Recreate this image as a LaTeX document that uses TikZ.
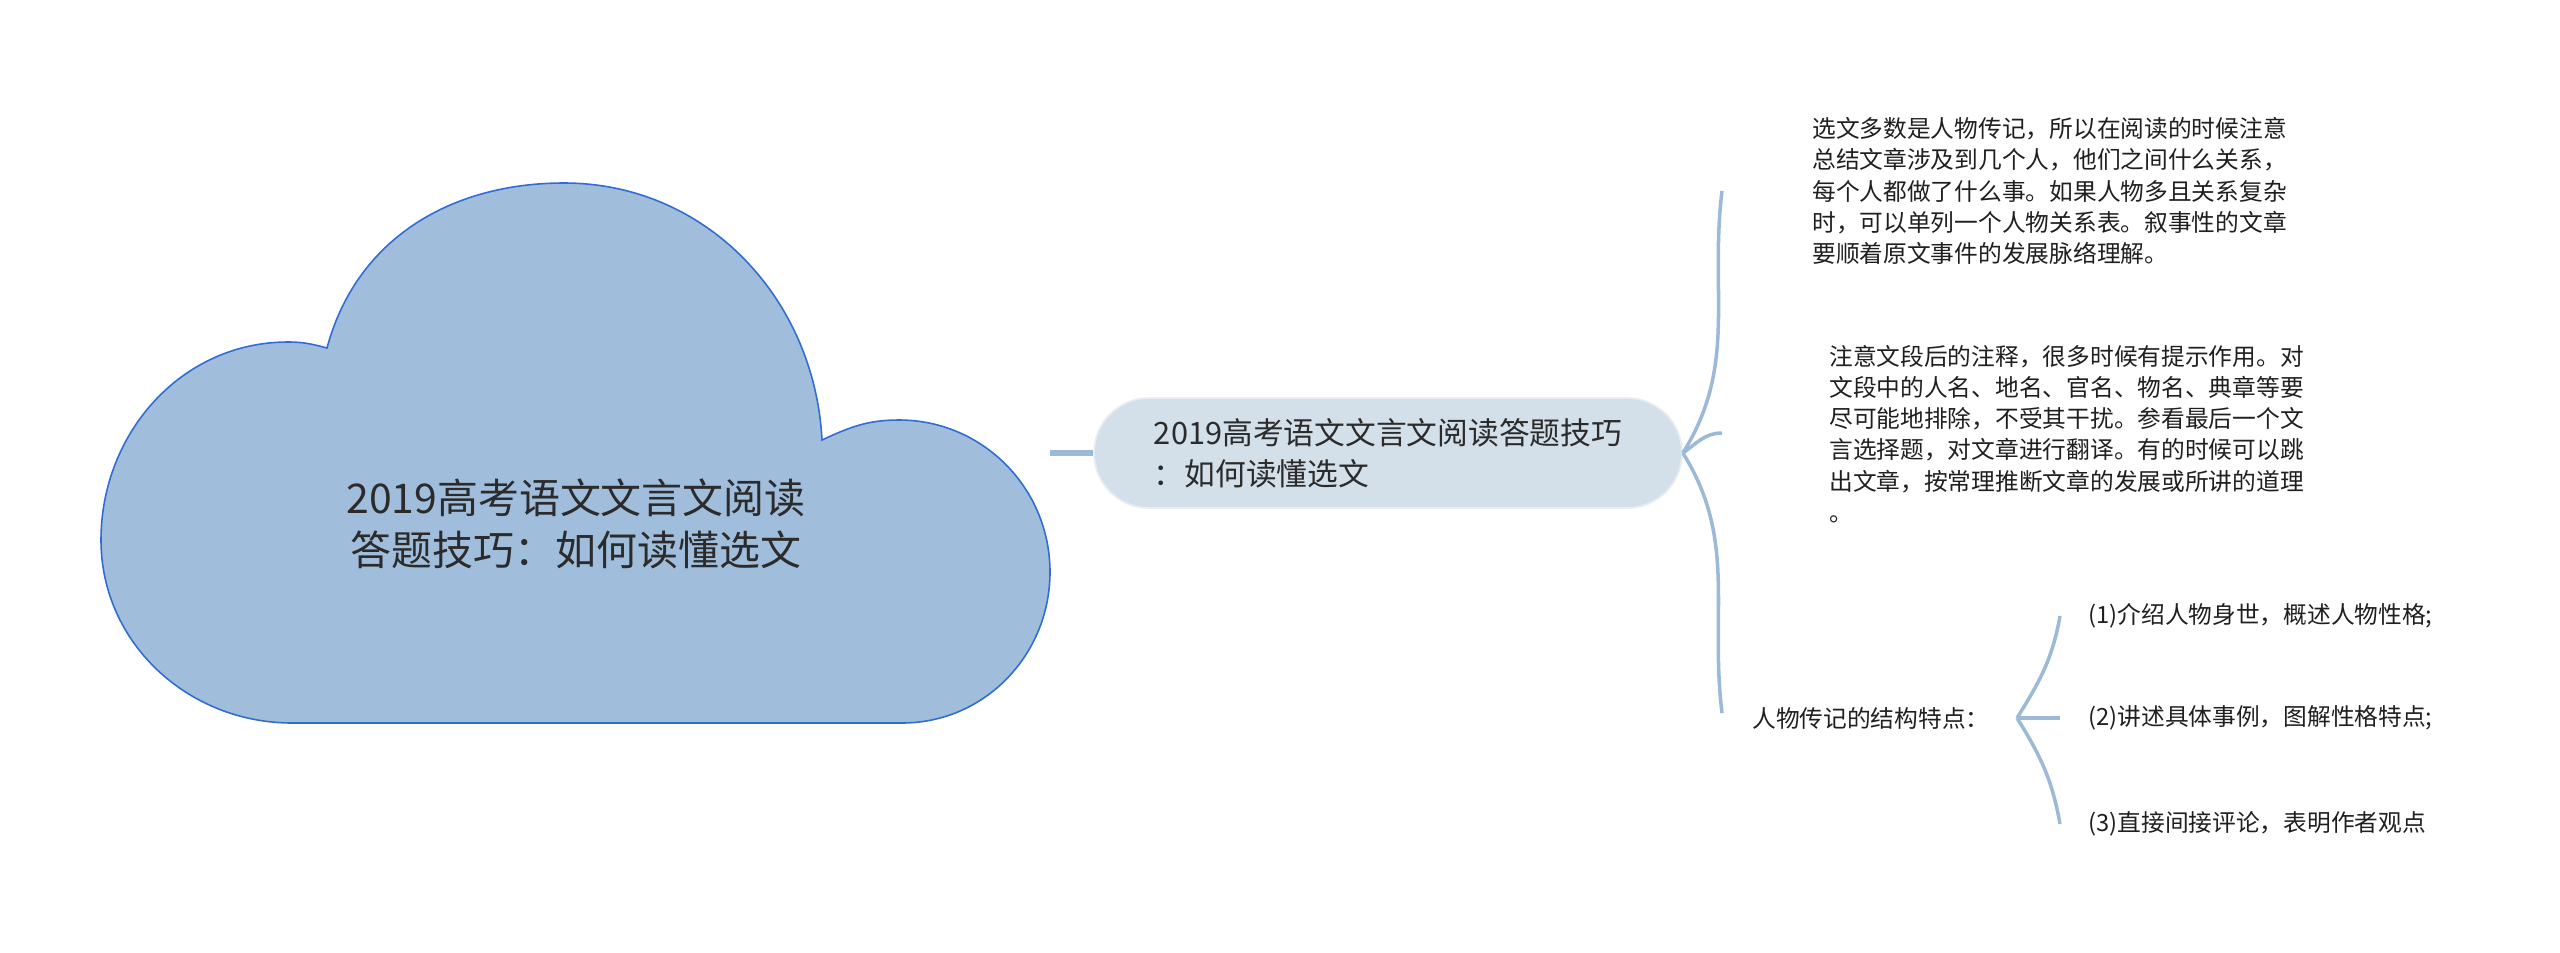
\documentclass[tikz,border=0pt]{standalone}
\usepackage{fontspec}
\setmainfont{Noto Sans CJK SC}
\definecolor{cielo}{HTML}{A0BEDC}
\definecolor{bordo}{HTML}{2F6CD6}
\definecolor{grigio}{HTML}{D3DFE9}
\definecolor{linea}{HTML}{9CB9D7}
\definecolor{scuro}{HTML}{2B2B2B}
\tikzset{
nuvola/.style={fill=cielo,draw=bordo,line width=0.9pt},
titolo/.style={align=center,text=scuro,font=\fontsize{23.3}{29.6}\selectfont},
centro/.style={rectangle,rounded corners=11mm,fill=grigio,draw=grigio!55!white,line width=1pt,minimum width=117.6mm,minimum height=22mm,align=left,text=scuro,font=\fontsize{17.5}{23.3}\selectfont},
testo/.style={anchor=west,align=left,inner sep=0pt,text=black!88,font=\fontsize{13.5}{17.8}\selectfont},
ramo/.style={draw=linea,line width=2pt}}

\begin{document}
\begin{tikzpicture}[x=0.2mm,y=0.2mm]
\useasboundingbox (0,0) rectangle (2560,-952);

% nuvola
\draw[nuvola] (822,-440) to[out=93,in=0] (564,-183) to[out=180,in=75] (327,-348)
  to[out=165,in=0] (288,-342) to[out=180,in=90] (101,-540) to[out=-90,in=180] (292,-723)
  -- (902,-723) to[out=0,in=-90] (1050,-572) to[out=90,in=0] (899,-420) to[out=180,in=25] (822,-440) -- cycle;
\node[titolo] (0) at (576,-524) {2019高考语文文言文阅读\\答题技巧：如何读懂选文};
\coordinate (c) at (1050,-453);

\node[centro] (1) at (1388,-453) {2019高考语文文言文阅读答题技巧\\：如何读懂选文};
\draw[ramo,line width=3pt] (c) -- (1.west);

\coordinate (a2) at (1722,-191);
\coordinate (a3) at (1722,-433);
\coordinate (a4) at (1722,-713);
\draw[ramo] (1.east) to[out=58,in=-97] (a2);
\draw[ramo] (1.east) to[out=35,in=180] (a3);
\draw[ramo] (1.east) to[out=-58,in=97] (a4);

\node[testo] (2) at (1812,-191) {选文多数是人物传记，所以在阅读的时候注意\\总结文章涉及到几个人，他们之间什么关系，\\每个人都做了什么事。如果人物多且关系复杂\\时，可以单列一个人物关系表。叙事性的文章\\要顺着原文事件的发展脉络理解。};
\node[testo] (3) at (1829,-434) {注意文段后的注释，很多时候有提示作用。对\\文段中的人名、地名、官名、物名、典章等要\\尽可能地排除，不受其干扰。参看最后一个文\\言选择题，对文章进行翻译。有的时候可以跳\\出文章，按常理推断文章的发展或所讲的道理\\。};
\node[testo] (4) at (1752,-718) {人物传记的结构特点：};

\coordinate (b4) at (2017,-718);
\coordinate (a5) at (2060,-616);
\coordinate (a6) at (2060,-718);
\coordinate (a7) at (2060,-824);
\draw[ramo] (b4) to[out=58,in=-100] (a5);
\draw[ramo] (b4) -- (a6);
\draw[ramo] (b4) to[out=-58,in=100] (a7);

\node[testo] (5) at (2088,-616) {(1)介绍人物身世，概述人物性格;};
\node[testo] (6) at (2088,-718) {(2)讲述具体事例，图解性格特点;};
\node[testo] (7) at (2088,-824) {(3)直接间接评论，表明作者观点};

\end{tikzpicture}
\end{document}
